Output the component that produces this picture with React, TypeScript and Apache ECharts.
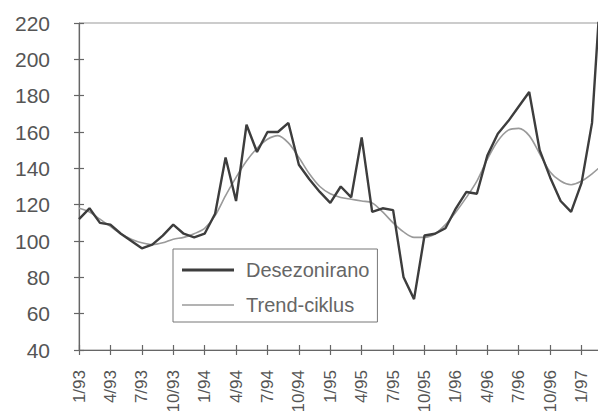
import React, { useEffect, useRef } from "react";
import * as echarts from "echarts";

const months: string[] = [
  "1/93", "2/93", "3/93", "4/93", "5/93", "6/93", "7/93", "8/93", "9/93", "10/93", "11/93", "12/93",
  "1/94", "2/94", "3/94", "4/94", "5/94", "6/94", "7/94", "8/94", "9/94", "10/94", "11/94", "12/94",
  "1/95", "2/95", "3/95", "4/95", "5/95", "6/95", "7/95", "8/95", "9/95", "10/95", "11/95", "12/95",
  "1/96", "2/96", "3/96", "4/96", "5/96", "6/96", "7/96", "8/96", "9/96", "10/96", "11/96", "12/96",
  "1/97", "2/97", "3/97",
];

const desezonirano: number[] = [
  112, 118, 110, 109, 104, 100, 96, 98, 103, 109, 104, 102,
  104, 115, 146, 122, 164, 149, 160, 160, 165, 142, 134, 127,
  121, 130, 124, 157, 116, 118, 117, 80, 68, 103, 104, 107,
  118, 127, 126, 147, 159, 166, 174, 182, 150, 135, 122, 116,
  132, 165, 255,
];

const trendCiklus: number[] = [
  118, 116, 112, 108, 104, 101, 99, 98, 99, 101, 102, 104,
  107, 114, 125, 135, 144, 151, 156, 158, 154, 146, 137, 130,
  126, 124, 123, 122, 121, 116, 110, 105, 102, 102, 104, 109,
  116, 124, 133, 145, 155, 161, 162, 158, 148, 138, 133, 131,
  133, 137, 142,
];

const seriesNames: string[] = ["Desezonirano", "Trend-ciklus"];

const FONT = "'Liberation Sans', Arial, Helvetica, sans-serif";
const DARK = "#3d3d3d";
const LIGHT = "#9a9a9a";

export default function App() {
  const ref = useRef<HTMLDivElement | null>(null);

  useEffect(() => {
    if (!ref.current) return;
    const chart = echarts.init(ref.current, null, { renderer: "svg" });
    const axisLineStyle = { color: "#666", width: 1.2 };
    chart.setOption({
      animation: false,
      backgroundColor: "#fff",
      grid: {
        left: 79,
        top: 23,
        bottom: 61,
        right: -4.5,
        containLabel: false,
        outerBoundsMode: "none",
        show: true,
        borderColor: "#999",
        borderWidth: 1,
      },
      legend: {
        orient: "vertical",
        left: 173,
        top: 249,
        data: [
          { name: seriesNames[0], icon: "path://M0,0H52V3H0Z" },
          { name: seriesNames[1], icon: "path://M0,0H52V1.6H0Z" },
        ],
        borderColor: "#777",
        borderWidth: 1,
        padding: [10, 8, 6, 9],
        itemWidth: 52,
        itemHeight: 14,
        itemGap: 13,
        textStyle: {
          fontFamily: FONT,
          fontSize: 20,
          color: "#666",
          lineHeight: 22,
          padding: [0, 0, 0, 7],
        },
      },
      xAxis: [
        {
          type: "category",
          data: months,
          boundaryGap: false,
          position: "bottom",
          axisLine: { lineStyle: axisLineStyle },
          axisTick: { interval: 2, length: 5, lineStyle: axisLineStyle },
          axisLabel: {
            interval: 2,
            rotate: 90,
            margin: 20,
            fontFamily: FONT,
            fontSize: 17,
            color: "#555",
          },
          splitLine: { show: false },
        },
        {
          type: "category",
          data: months,
          boundaryGap: false,
          position: "bottom",
          offset: 0,
          axisLine: { show: false },
          axisTick: { interval: 2, length: 5, inside: true, lineStyle: axisLineStyle },
          axisLabel: { show: false },
          splitLine: { show: false },
        },
      ],
      yAxis: [
        {
          type: "value",
          min: 40,
          max: 220,
          interval: 20,
          position: "left",
          axisLine: { show: true, lineStyle: axisLineStyle },
          axisTick: { show: true, length: 5, lineStyle: axisLineStyle },
          axisLabel: {
            margin: 29,
            fontFamily: FONT,
            fontSize: 21,
            color: "#555",
          },
          splitLine: { show: false },
        },
        {
          type: "value",
          min: 40,
          max: 220,
          interval: 20,
          position: "left",
          offset: 0,
          axisLine: { show: false },
          axisTick: { show: true, length: 5, inside: true, lineStyle: axisLineStyle },
          axisLabel: { show: false },
          splitLine: { show: false },
        },
      ],
      series: [
        {
          name: seriesNames[0],
          type: "line",
          data: desezonirano,
          xAxisIndex: 0,
          yAxisIndex: 0,
          symbol: "none",
          clip: true,
          lineStyle: { color: DARK, width: 2.4 },
          itemStyle: { color: DARK },
          z: 3,
        },
        {
          name: seriesNames[1],
          type: "line",
          data: trendCiklus,
          xAxisIndex: 0,
          yAxisIndex: 0,
          symbol: "none",
          smooth: 0.3,
          clip: true,
          lineStyle: { color: LIGHT, width: 1.6 },
          itemStyle: { color: LIGHT },
          z: 2,
        },
      ],
    });
    return () => {
      chart.dispose();
    };
  }, []);

  return (
    <div
      ref={ref}
      style={{ position: "fixed", left: 0, top: 0, width: 598, height: 411 }}
    />
  );
}
